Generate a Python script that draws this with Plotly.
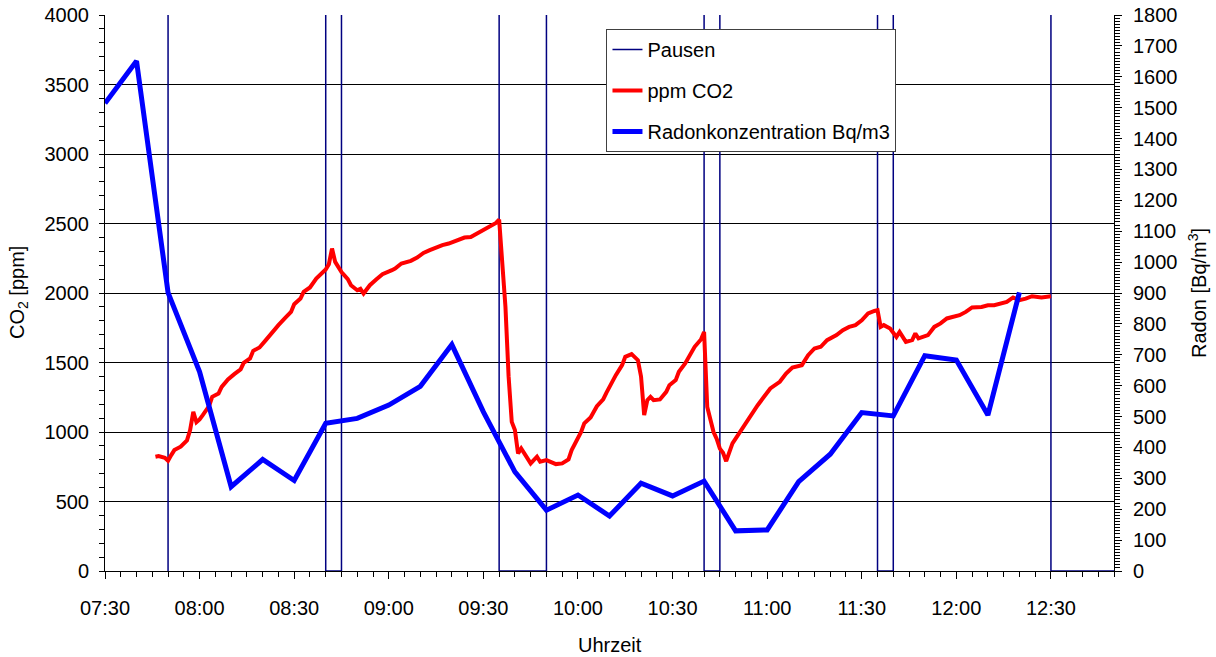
import plotly.graph_objects as go
import pandas as pd

DAY = "2000-01-01 "

# --- Data -------------------------------------------------------------
co2_times = ["07:46","07:47","07:49","07:50","07:51","07:52","07:54","07:56","07:57","07:58",
             "07:59","08:00","08:01","08:03","08:04","08:06","08:07","08:09","08:11","08:13",
             "08:14","08:16","08:17","08:19","08:21","08:22","08:24","08:25","08:27","08:29",
             "08:30","08:32","08:33","08:35","08:37","08:38","08:40","08:41","08:42","08:43",
             "08:45","08:47","08:48","08:50","08:51","08:52","08:54","08:56","08:58","09:01",
             "09:02","09:04","09:07","09:09","09:11","09:13","09:15","09:17","09:19","09:22",
             "09:24","09:26","09:28","09:30","09:32","09:34","09:35","09:36","09:37","09:38",
             "09:39","09:40","09:41","09:42","09:44","09:45","09:47","09:48","09:50","09:52",
             "09:53","09:55","09:57","09:58","10:01","10:02","10:04","10:06","10:08","10:09",
             "10:11","10:12","10:14","10:15","10:17","10:19","10:20","10:21","10:22","10:23",
             "10:24","10:26","10:28","10:29","10:31","10:32","10:34","10:36","10:37","10:39",
             "10:40","10:41","10:42","10:43","10:44","10:45","10:46","10:47","10:49","10:51",
             "10:53","10:55","10:57","10:59","11:01","11:04","11:06","11:08","11:11","11:13",
             "11:15","11:17","11:19","11:22","11:24","11:26","11:28","11:30","11:32","11:34",
             "11:35","11:36","11:37","11:39","11:41","11:42","11:44","11:46","11:47","11:48",
             "11:51","11:53","11:55","11:57","11:59","12:01","12:03","12:05","12:08","12:10",
             "12:12","12:14","12:16","12:18","12:20","12:22","12:24","12:27","12:29","12:30"]
co2_ppm = [822, 827, 815, 793, 834, 870, 894, 940, 1014, 1145,
           1070, 1090, 1121, 1186, 1253, 1277, 1325, 1378, 1416, 1450,
           1498, 1529, 1584, 1608, 1661, 1689, 1752, 1769, 1817, 1864,
           1919, 1960, 2008, 2040, 2104, 2128, 2169, 2207, 2320, 2224,
           2150, 2100, 2056, 2020, 2030, 1996, 2056, 2097, 2135, 2164,
           2176, 2212, 2231, 2255, 2288, 2308, 2327, 2344, 2356, 2380,
           2399, 2403, 2428, 2451, 2480, 2504, 2528, 2230, 1900, 1400,
           1073, 1014, 846, 882, 810, 774, 822, 786, 798, 774,
           769, 774, 803, 870, 1001, 1062, 1105, 1186, 1234, 1282,
           1373, 1409, 1481, 1541, 1560, 1517, 1400, 1121, 1229, 1253,
           1229, 1234, 1289, 1337, 1373, 1433, 1493, 1565, 1613, 1666,
           1720, 1180, 1100, 1000, 950, 880, 850, 790, 918, 990,
           1062, 1134, 1193, 1253, 1313, 1361, 1421, 1464, 1481, 1553,
           1601, 1613, 1661, 1697, 1733, 1756, 1769, 1804, 1853, 1871,
           1876, 1756, 1769, 1745, 1684, 1720, 1648, 1661, 1709, 1673,
           1697, 1756, 1781, 1817, 1828, 1840, 1864, 1896, 1900, 1912,
           1912, 1924, 1936, 1968, 1948, 1960, 1977, 1968, 1977, 1977]

radon_times = ["07:30","07:40","07:50","08:00","08:10","08:20","08:30","08:40","08:50","09:00",
               "09:10","09:20","09:30","09:40","09:50","10:00","10:10","10:20","10:30","10:40",
               "10:50","11:00","11:10","11:20","11:30","11:40","11:50","12:00","12:10","12:20"]
radon_bq = [1514, 1651, 901, 645, 273, 361, 293, 478, 494, 537,
            598, 733, 515, 321, 197, 246, 178, 284, 243, 291,
            130, 133, 289, 378, 513, 502, 697, 683, 505, 902]

# Pausen: 0 during breaks, off-scale (clipped at the top) during lessons
pause_times = ["07:50","07:50","08:40","08:40","08:45","08:45","09:35","09:35","09:50","09:50",
               "10:40","10:40","10:45","10:45","11:35","11:35","11:40","11:40","12:30","12:30","12:50"]
pause_level = [0, 5000, 5000, 0, 0, 5000, 5000, 0, 0, 5000,
               5000, 0, 0, 5000, 5000, 0, 0, 5000, 5000, 0, 0]

x_start, x_end = "07:30", "12:50"

def to_dt(ts):
    return pd.to_datetime([DAY + t for t in ts])

FONT = "Arial, Liberation Sans, sans-serif"

fig = go.Figure()
fig.add_trace(go.Scatter(x=to_dt(pause_times), y=pause_level, mode="lines", name="Pausen",
                         line=dict(color="#000080", width=1.5), legendgroup="a"))
fig.add_trace(go.Scatter(x=to_dt(co2_times), y=co2_ppm, mode="lines", name="ppm CO2",
                         line=dict(color="#FF0000", width=4), legendgroup="b"))
fig.add_trace(go.Scatter(x=to_dt(radon_times), y=radon_bq, mode="lines",
                         name="Radonkonzentration Bq/m3", yaxis="y2",
                         line=dict(color="#0000FF", width=5), legendgroup="c"))

xr = [DAY + x_start, DAY + x_end]
tick_font = dict(family=FONT, size=20, color="black")

fig.update_layout(
    width=1216, height=657,
    margin=dict(l=105, r=102, t=15, b=86),
    paper_bgcolor="white", plot_bgcolor="white",
    font=dict(family=FONT, size=20, color="black"),
    showlegend=True,
    legend=dict(x=0.497, y=0.975, xanchor="left", yanchor="top",
                bgcolor="white", bordercolor="#404040", borderwidth=1,
                font=dict(family=FONT, size=20, color="black"),
                tracegroupgap=12, traceorder="grouped"),
    xaxis=dict(type="date", range=xr, tick0=DAY + "07:30", dtick=1800000,
               tickformat="%H:%M", showgrid=False, zeroline=False, automargin=False,
               showline=True, linecolor="black", linewidth=1,
               ticks="outside", ticklen=7, tickcolor="black",
               ticklabelstandoff=12, tickfont=tick_font,
               minor=dict(dtick=300000, tick0=DAY + "07:30", ticks="outside",
                          ticklen=5, tickcolor="black", showgrid=False)),
    xaxis2=dict(type="date", range=xr, overlaying="x", anchor="y", side="bottom",
                tick0=DAY + "07:30", dtick=1800000, showticklabels=False, automargin=False,
                showgrid=False, zeroline=False, showline=False,
                ticks="inside", ticklen=7, tickcolor="black"),
    yaxis=dict(range=[0, 4000], dtick=500, showgrid=True, gridcolor="black", gridwidth=1,
               zeroline=False, showline=True, linecolor="black", linewidth=1, automargin=False,
               ticks="outside", ticklen=5, tickcolor="black",
               ticklabelstandoff=6, tickfont=tick_font,
               minor=dict(dtick=100, ticks="outside", ticklen=5, tickcolor="black",
                          showgrid=False)),
    yaxis2=dict(range=[0, 1800], dtick=100, overlaying="y", side="right", anchor="x",
                showgrid=False, zeroline=False, showline=True, linecolor="black",
                linewidth=1, ticks="outside", ticklen=7, tickcolor="black", automargin=False,
                ticklabelstandoff=7, tickfont=tick_font,
                minor=dict(dtick=10, ticks="outside", ticklen=5, tickcolor="black",
                           showgrid=False)),
    yaxis3=dict(range=[0, 4000], dtick=500, overlaying="y", side="left", anchor="x",
                showticklabels=False, showgrid=False, zeroline=False, showline=False,
                ticks="inside", ticklen=5, tickcolor="black", automargin=False,
                minor=dict(dtick=100, ticks="inside", ticklen=5, tickcolor="black",
                           showgrid=False)),
    yaxis4=dict(range=[0, 1800], dtick=100, overlaying="y", side="right", anchor="x",
                showticklabels=False, showgrid=False, zeroline=False, showline=False,
                ticks="inside", ticklen=7, tickcolor="black", automargin=False,
                minor=dict(dtick=10, ticks="inside", ticklen=5, tickcolor="black",
                           showgrid=False)),
)

fig.add_annotation(text="CO<sub>2</sub> [ppm]", xref="paper", yref="paper", x=0, y=0.5,
                   xshift=-87, textangle=-90, showarrow=False,
                   xanchor="center", yanchor="middle", font=dict(family=FONT, size=20))
fig.add_annotation(text="Radon [Bq/m<sup>3</sup>]", xref="paper", yref="paper", x=1, y=0.5,
                   xshift=83, textangle=-90, showarrow=False,
                   xanchor="center", yanchor="middle", font=dict(family=FONT, size=20))
fig.add_annotation(text="Uhrzeit", xref="paper", yref="paper", x=0.5, y=0,
                   yshift=-74, showarrow=False,
                   xanchor="center", yanchor="middle", font=dict(family=FONT, size=20))

fig.write_html("out.html")
